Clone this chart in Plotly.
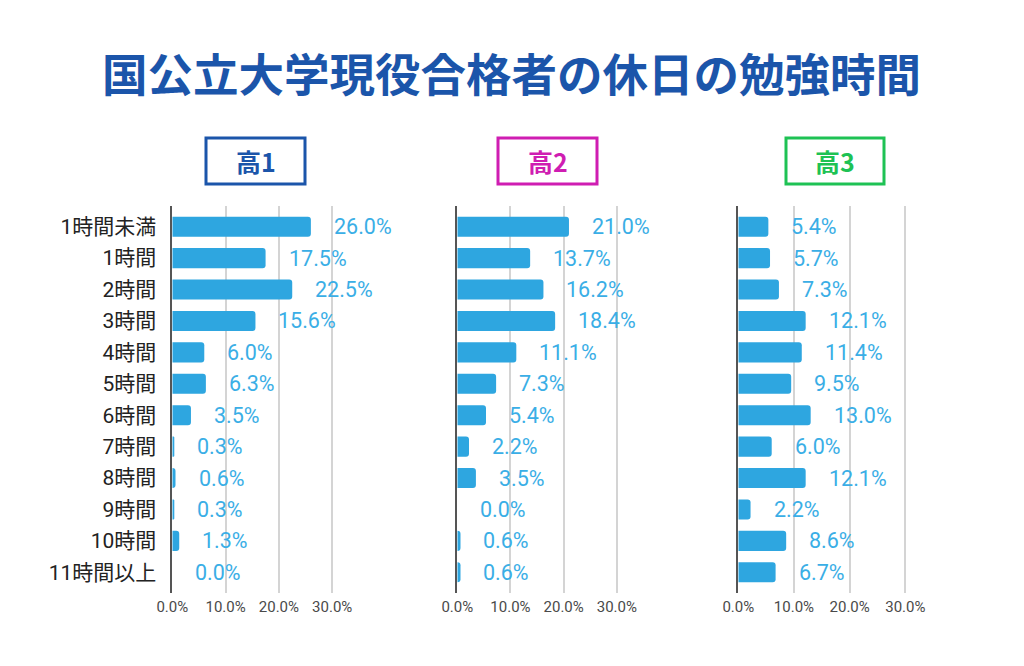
import plotly.graph_objects as go

# ---------------- data ----------------
categories = ["1時間未満", "1時間", "2時間", "3時間", "4時間", "5時間",
              "6時間", "7時間", "8時間", "9時間", "10時間", "11時間以上"]
grade1 = [26.0, 17.5, 22.5, 15.6, 6.0, 6.3, 3.5, 0.3, 0.6, 0.3, 1.3, 0.0]
grade2 = [21.0, 13.7, 16.2, 18.4, 11.1, 7.3, 5.4, 2.2, 3.5, 0.0, 0.6, 0.6]
grade3 = [5.4, 5.7, 7.3, 12.1, 11.4, 9.5, 13.0, 6.0, 12.1, 2.2, 8.6, 6.7]
panel_titles = ["高1", "高2", "高3"]
tick_vals = [0, 10, 20, 30]
tick_text = ["0.0%", "10.0%", "20.0%", "30.0%"]
chart_title = "国公立大学現役合格者の休日の勉強時間"

# ---------------- styling ----------------
OFF = 8  # page body margin
W, H = 1024 - 2 * OFF, 666 - 2 * OFF


def fx(px):
    return (px - OFF) / W


def fy(py):
    return 1 - (py - OFF) / H


BAR = "#2EA6E0"
LABEL = "#3AAEE6"
TITLE_BLUE = "#1B55AA"
panel_colors = ["#1B55AA", "#CF1DB2", "#1EC254"]
panel_px = [(172.3, 385.5), (457.3, 670.0), (738.3, 961.0)]
box_px = [(206, 305), (498, 597), (786, 884)]
y_dom = [fy(593), fy(206)]
pad = 0.16
FONT = "Roboto, 'Noto Sans CJK JP', sans-serif"
CJK = "'Noto Sans CJK JP', sans-serif"

series = [grade1, grade2, grade3]
fig = go.Figure()
annotations = []
shapes = []
layout_axes = {}

for i, vals in enumerate(series):
    n = "" if i == 0 else str(i + 1)
    fig.add_trace(go.Bar(
        x=vals, y=categories, orientation="h",
        marker=dict(color=BAR, cornerradius=3, line=dict(width=0)),
        xaxis="x" + n, yaxis="y" + n, showlegend=False,
        hoverinfo="skip",
    ))
    x0, x1 = panel_px[i]
    layout_axes["xaxis" + n] = dict(
        domain=[fx(x0), fx(x1)], range=[0, 40], anchor="y" + n,
        tickvals=tick_vals, ticktext=tick_text,
        showgrid=True, gridcolor="#D4D4D4", gridwidth=1.5,
        zeroline=False, showline=False, ticks="",
        ticklabelstandoff=3,
        tickfont=dict(family=FONT, size=15, color="#4A4A4A"),
        fixedrange=True,
    )
    layout_axes["yaxis" + n] = dict(
        domain=y_dom, anchor="x" + n, type="category",
        categoryorder="array", categoryarray=categories,
        range=[len(categories) - 0.5 + pad, -0.5 - pad],
        showline=True, linecolor="#555555", linewidth=1.5,
        showgrid=False, zeroline=False, ticks="",
        showticklabels=(i == 0), ticklabelstandoff=10,
        tickfont=dict(family=FONT, size=21, color="#222222"),
        fixedrange=True,
    )
    for c, v in zip(categories, vals):
        annotations.append(dict(
            x=v, y=c, xref="x" + n, yref="y" + n,
            text=f"{v:.1f}%", showarrow=False,
            xanchor="left", yanchor="middle", xshift=21,
            font=dict(family=FONT, size=21.5, color=LABEL),
        ))
    bx0, bx1 = box_px[i]
    shapes.append(dict(
        type="rect", xref="paper", yref="paper",
        x0=fx(bx0), x1=fx(bx1), y0=fy(184), y1=fy(138),
        line=dict(color=panel_colors[i], width=3), fillcolor="white",
    ))
    annotations.append(dict(
        x=fx((bx0 + bx1) / 2), y=fy(161), xref="paper", yref="paper",
        text=f"<b>{panel_titles[i]}</b>", showarrow=False,
        xanchor="center", yanchor="middle",
        font=dict(family=CJK, size=25, color=panel_colors[i]),
    ))

annotations.append(dict(
    x=fx(511), y=fy(72), xref="paper", yref="paper",
    text=f"<b>{chart_title}</b>", showarrow=False,
    xanchor="center", yanchor="middle",
    font=dict(family=CJK, size=45.5, color=TITLE_BLUE),
))

fig.update_layout(
    width=W, height=H,
    margin=dict(l=0, r=0, t=0, b=0, autoexpand=False),
    paper_bgcolor="white", plot_bgcolor="white",
    bargap=0.36,
    annotations=annotations, shapes=shapes,
    **layout_axes,
)

fig.write_html("out.html", config={"displayModeBar": False})
